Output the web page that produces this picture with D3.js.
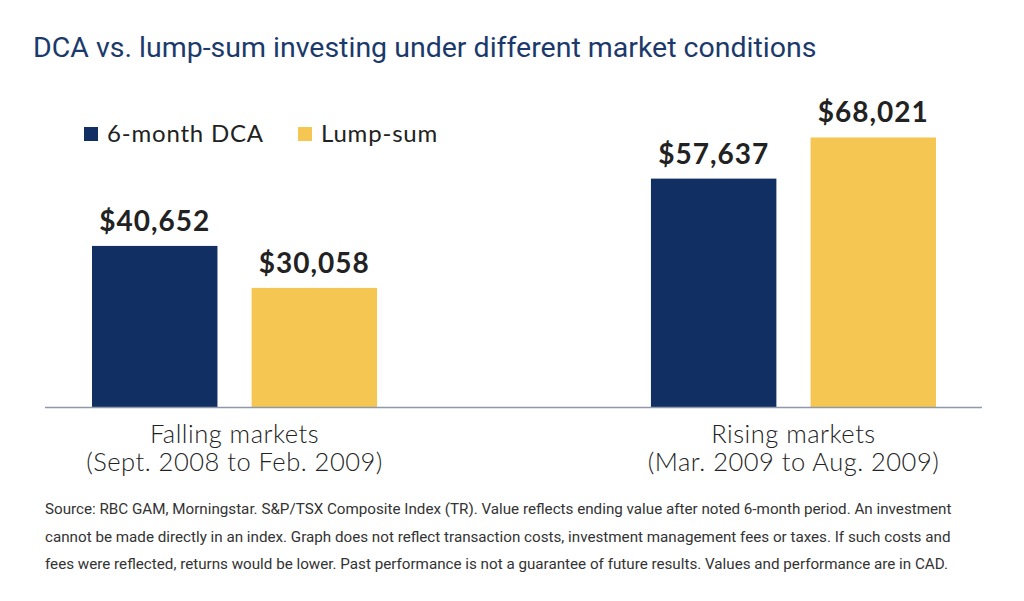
<!DOCTYPE html>
<html>
<head>
<meta charset="utf-8">
<script src="https://cdn.jsdelivr.net/npm/d3@7"></script>
<style>
  body { margin: 0; background: #fff; }
  svg { display: block; }
</style>
</head>
<body>
<svg id="chart"></svg>
<script>
// chart data
const categories = ["Falling markets", "Rising markets"];
const periods = ["(Sept. 2008 to Feb. 2009)", "(Mar. 2009 to Aug. 2009)"];
const seriesNames = ["6-month DCA", "Lump-sum"];
const dcaValues = [40652, 57637];
const lumpValues = [30058, 68021];

const width = 1024, height = 601;
const colors = { "6-month DCA": "#112f63", "Lump-sum": "#f5c652" };

const svg = d3.select("#chart").attr("width", width).attr("height", height);

// title
svg.append("text")
  .attr("x", 33).attr("y", 57)
  .style("font-family", "Roboto")
  .style("font-size", "28.5px")
  .style("fill", "#1b3a6b")
  .text("DCA vs. lump-sum investing under different market conditions");

const rows = categories.map((c, i) => ({ cat: c, period: periods[i], vals: [
  { name: seriesNames[0], value: dcaValues[i] },
  { name: seriesNames[1], value: lumpValues[i] }
]}));

// scales
const baseY = 407;
const y = d3.scaleLinear().domain([0, 80000]).range([baseY, baseY - 317]);

const x0 = d3.scaleBand()
  .domain(categories)
  .range([92, 936])
  .paddingInner(0.49);

const x1 = d3.scaleBand()
  .domain(seriesNames)
  .range([0, x0.bandwidth()])
  .paddingInner(0.214);

const groups = svg.selectAll(".group")
  .data(rows)
  .enter().append("g")
  .attr("class", "group")
  .attr("transform", d => `translate(${x0(d.cat)},0)`);

groups.selectAll("rect")
  .data(d => d.vals)
  .enter().append("rect")
  .attr("x", d => x1(d.name))
  .attr("y", d => y(d.value))
  .attr("width", x1.bandwidth())
  .attr("height", d => baseY - y(d.value))
  .style("fill", d => colors[d.name]);

groups.selectAll(".val")
  .data(d => d.vals)
  .enter().append("text")
  .attr("class", "val")
  .attr("x", d => x1(d.name) + x1.bandwidth() / 2)
  .attr("y", d => y(d.value) - 15)
  .style("text-anchor", "middle")
  .style("font-family", "Lato")
  .style("font-weight", "bold")
  .style("font-size", "28px")
  .style("letter-spacing", "1px")
  .style("fill", "#222")
  .text(d => "$" + d3.format(",")(d.value));

// baseline axis
const xAxis = svg.append("g")
  .attr("transform", `translate(0,${baseY})`)
  .call(d3.axisBottom(x0).tickSize(0).tickFormat(""));
xAxis.select(".domain")
  .attr("d", "M45,0.5H982")
  .style("stroke", "#8e99aa")
  .style("stroke-width", 1.5);

// category labels
const catLabels = svg.selectAll(".cat")
  .data(rows)
  .enter().append("text")
  .attr("class", "cat")
  .attr("x", d => x0(d.cat) + x0.bandwidth() / 2)
  .attr("y", 443)
  .style("text-anchor", "middle")
  .style("font-family", "Lato")
  .style("font-weight", 300)
  .style("font-size", "25.5px")
  .style("letter-spacing", "0.5px")
  .style("fill", "#222");
catLabels.append("tspan").text(d => d.cat);
catLabels.append("tspan")
  .attr("x", d => x0(d.cat) + x0.bandwidth() / 2)
  .attr("dy", 28)
  .text(d => d.period);

// legend
const legend = svg.selectAll(".legend")
  .data(seriesNames)
  .enter().append("g")
  .attr("class", "legend")
  .attr("transform", (d, i) => `translate(${[84, 298][i]},127)`);
legend.append("rect")
  .attr("width", 14).attr("height", 14)
  .style("fill", d => colors[d]);
legend.append("text")
  .attr("x", 23).attr("y", 15)
  .style("font-family", "Lato")
  .style("font-size", "24px")
  .style("letter-spacing", "0.8px")
  .style("fill", "#222")
  .text(d => d);

// footnote
const notes = [
  "Source: RBC GAM, Morningstar. S&P/TSX Composite Index (TR). Value reflects ending value after noted 6-month period. An investment",
  "cannot be made directly in an index. Graph does not reflect transaction costs, investment management fees or taxes. If such costs and",
  "fees were reflected, returns would be lower. Past performance is not a guarantee of future results. Values and performance are in CAD."
];
svg.selectAll(".note")
  .data(notes)
  .enter().append("text")
  .attr("class", "note")
  .attr("x", 45)
  .attr("y", (d, i) => 514 + i * 27.5)
  .style("font-family", "Roboto")
  .style("font-size", "15.2px")
  .style("fill", "#333")
  .text(d => d);
</script>
</body>
</html>
